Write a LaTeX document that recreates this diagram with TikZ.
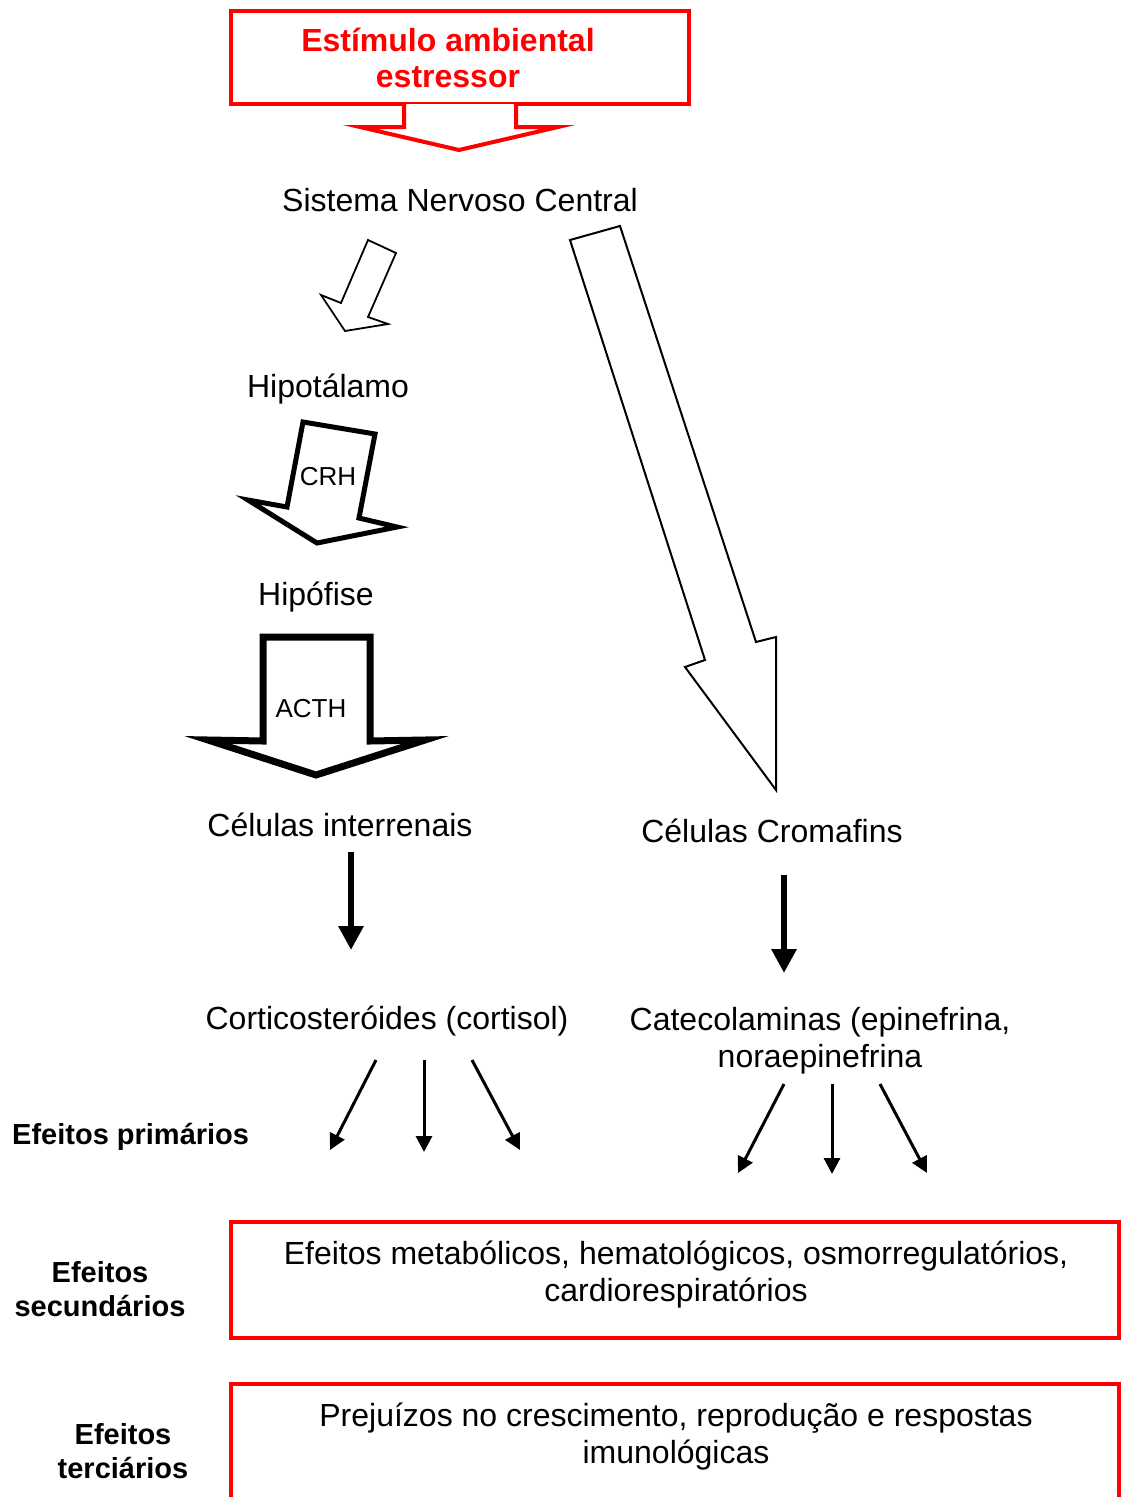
\documentclass[tikz,border=0pt]{standalone}
\usepackage{fontspec}
\setmainfont{Liberation Sans}
\usetikzlibrary{arrows.meta}
\definecolor{rd}{RGB}{255,0,0}
\begin{document}
\begin{tikzpicture}[x=1pt,y=-1pt,
  lbl/.style={font=\fontsize{32}{37}\selectfont, inner sep=0pt, anchor=base, align=center},
  blbl/.style={font=\bfseries\fontsize{29}{34}\selectfont, inner sep=0pt, anchor=base, align=center},
  slbl/.style={font=\fontsize{26}{30}\selectfont, inner sep=0pt, anchor=base},
  redbox/.style={draw=rd, line width=4pt, inner sep=0pt},
  blockarr/.style={draw=black, fill=white, line join=miter},
  bigdown/.style={line width=6pt, -{Triangle[width=24pt,length=24pt]}},
  effarr/.style={line width=3pt, -{Triangle[width=16pt,length=16pt]}}
]
\path[use as bounding box, clip] (0,0) rectangle (1121,1497);
\fill[white] (0,0) rectangle (1121,1497);

% stimulus box
\node[redbox, minimum width=458pt, minimum height=93pt] (stim) at (460,57.5) {};
\node[font=\bfseries\fontsize{32}{36}\selectfont, text=rd, inner sep=0pt, anchor=base, align=center] (stimtxt) at (448,87) {Estímulo ambiental\\estressor};
\draw[rd, line width=4pt, fill=white, line join=miter] (404,104) -- (404,127) -- (360,127) -- (459,150) -- (558,127) -- (516,127) -- (516,104);

% labels
\node[lbl] (snc) at (460,211) {Sistema Nervoso Central};
\node[lbl] (hipot) at (328,397) {Hipotálamo};
\node[lbl] (hipof) at (316,605) {Hipófise};
\node[lbl] (cint) at (340,836) {Células interrenais};
\node[lbl] (ccrom) at (772,842) {Células Cromafins};
\node[lbl] (cort) at (387,1029) {Corticosteróides (cortisol)};
\node[lbl] (cate) at (820,1067) {Catecolaminas (epinefrina,\\noraepinefrina};

% block arrows
\draw[blockarr, line width=1.8pt] (368,240) -- (396,253) -- (368,317) -- (388,324) -- (345,331) -- (321,295) -- (341,303) -- cycle;
\draw[blockarr, line width=5pt] (303,422) -- (375,434) -- (359,518) -- (397,527) -- (317,543) -- (248,500) -- (287,507) -- cycle;
\node[slbl] (crh) at (328,485) {CRH};
\draw[blockarr, line width=7pt] (263,637) -- (370,637) -- (370,741) -- (425,740) -- (316,775) -- (208,740) -- (263,741) -- cycle;
\node[slbl] (acth) at (311,717) {ACTH};
\draw[blockarr, line width=2pt] (570,240) -- (620,226) -- (756,642) -- (776,637) -- (776,790) -- (685,667) -- (705,660) -- cycle;

% thick arrows
\coordinate (i1) at (351,852);
\coordinate (i2) at (351,950);
\coordinate (c1) at (784,875);
\coordinate (c2) at (784,973);
\draw[bigdown] (i1) -- (i2);
\draw[bigdown] (c1) -- (c2);

% primary effect arrows
\coordinate (la) at (376,1060); \coordinate (laE) at (330,1150);
\coordinate (lb) at (424,1060); \coordinate (lbE) at (424,1152);
\coordinate (lc) at (472,1060); \coordinate (lcE) at (520,1150);
\coordinate (ra) at (784,1084); \coordinate (raE) at (738,1173);
\coordinate (rb) at (832,1084); \coordinate (rbE) at (832,1174);
\coordinate (rc) at (880,1084); \coordinate (rcE) at (927,1173);
\draw[effarr] (la) -- (laE);
\draw[effarr] (lb) -- (lbE);
\draw[effarr] (lc) -- (lcE);
\draw[effarr] (ra) -- (raE);
\draw[effarr] (rb) -- (rbE);
\draw[effarr] (rc) -- (rcE);

% effects
\node[blbl, anchor=base west] (prim) at (12,1144) {Efeitos primários};
\node[redbox, minimum width=888pt, minimum height=116pt] (sec) at (675,1280) {};
\node[lbl] (sectxt) at (676,1301) {Efeitos metabólicos, hematológicos, osmorregulatórios,\\cardiorespiratórios};
\node[blbl] (seclbl) at (100,1316) {Efeitos\\secundários};
\node[redbox, minimum width=888pt, minimum height=130pt] (ter) at (675,1449) {};
\node[lbl] (tertxt) at (676,1463) {Prejuízos no crescimento, reprodução e respostas\\imunológicas};
\node[blbl] (terlbl) at (123,1478) {Efeitos\\terciários};
\end{tikzpicture}
\end{document}
